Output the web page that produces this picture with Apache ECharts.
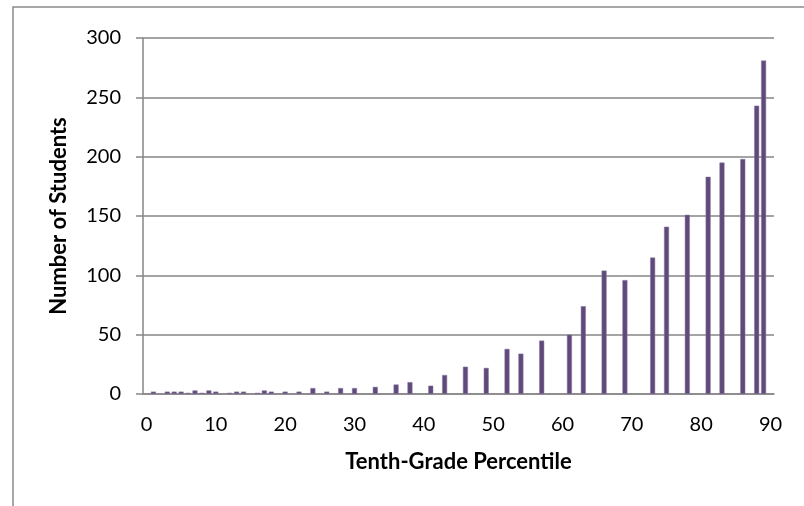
<!DOCTYPE html>
<html>
<head>
<meta charset="utf-8">
<script src="https://cdn.jsdelivr.net/npm/echarts@6/dist/echarts.min.js"></script>
<style>
html,body{margin:0;padding:0;background:#fff;}
#chart{width:804px;height:506px;}
</style>
</head>
<body>
<div id="chart"></div>
<script>
// Tick labels / categories (percentile 0..90)
var categories = ["0","1","2","3","4","5","6","7","8","9","10","11","12","13","14","15","16","17","18","19","20","21","22","23","24","25","26","27","28","29","30","31","32","33","34","35","36","37","38","39","40","41","42","43","44","45","46","47","48","49","50","51","52","53","54","55","56","57","58","59","60","61","62","63","64","65","66","67","68","69","70","71","72","73","74","75","76","77","78","79","80","81","82","83","84","85","86","87","88","89","90"];
// Percentile positions that have bars
var percentiles = [1,3,4,5,6,7,8,9,10,12,13,14,16,17,18,20,22,24,26,28,30,33,36,38,41,43,46,49,52,54,57,61,63,66,69,73,75,78,81,83,86,88,89];
// Number of students at each percentile
var students = [2,2,2,2,1,3,1,3,2,1,2,2,1,3,2,2,2,5,2,5,5,6,8,10,7,16,23,22,38,34,45,50,74,104,96,115,141,151,183,195,198,243,281];
var yTicks = [0,50,100,150,200,250,300];

var chart = echarts.init(document.getElementById('chart'));
var FONT = 'Lato';
var gray = '#868686';
chart.setOption({
  animation:false,
  backgroundColor:'#fff',
  graphic:[{type:'rect',shape:{x:13,y:7,width:820,height:520},style:{fill:'none',stroke:'#8a8a8a',lineWidth:1.5},silent:true}],
  grid:{left:143,right:30,top:38,bottom:112,containLabel:false},
  xAxis:{
    type:'category',
    data:categories,
    boundaryGap:true,
    axisLine:{show:true,lineStyle:{color:gray,width:1.5}},
    axisTick:{show:false},
    axisLabel:{interval:function(i){return i%10===0;},color:'#000',fontFamily:FONT,fontSize:20,margin:21},
    splitLine:{show:false},
    name:'Tenth-Grade Percentile',
    nameLocation:'middle',
    nameGap:57,
    nameTextStyle:{color:'#000',fontFamily:FONT,fontWeight:'bold',fontSize:22}
  },
  yAxis:{
    type:'value',
    min:yTicks[0],max:yTicks[yTicks.length-1],interval:50,
    axisLine:{show:true,lineStyle:{color:gray,width:1.5}},
    axisTick:{show:true,inside:false,length:7,lineStyle:{color:gray,width:1.5}},
    axisLabel:{color:'#000',fontFamily:FONT,fontSize:20,margin:22},
    splitLine:{show:true,lineStyle:{color:gray,width:1.5}},
    name:'Number of Students',
    nameLocation:'middle',
    nameGap:73,
    nameTextStyle:{color:'#000',fontFamily:FONT,fontWeight:'bold',fontSize:22}
  },
  series:[{
    type:'bar',
    barWidth:5,
    data:percentiles.map(function(p,i){return [String(p),students[i]];}),
    itemStyle:{color:'#604A7B',borderColor:'#8a78a3',borderWidth:0.5}
  }]
});
</script>
</body>
</html>
